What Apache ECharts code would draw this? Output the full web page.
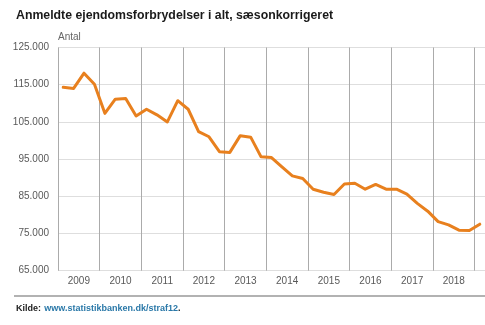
<!DOCTYPE html>
<html>
<head>
<meta charset="utf-8">
<script src="https://cdn.jsdelivr.net/npm/echarts@6/dist/echarts.min.js"></script>
<style>html,body{margin:0;padding:0;background:#fff;}#c{width:485px;height:325px;}</style>
</head>
<body>
<div id="c"></div>
<script>
// Quarterly categories 2009K1 .. 2019K1
const years = ['2009','2010','2011','2012','2013','2014','2015','2016','2017','2018','2019'];
const quarters = [];
for (const y of years) for (let q = 1; q <= 4; q++) quarters.push(y + 'K' + q);
quarters.length = 41;
const values = [
  114300, 114000, 118100, 115100, 107300, 111100, 111300, 106600,
  108400, 106900, 105000, 110700, 108400, 102400, 101000, 97000,
  96800, 101300, 100900, 95600, 95400, 92900, 90500, 89800,
  86900, 86100, 85500, 88300, 88500, 86900, 88200, 86900,
  86900, 85600, 83100, 81000, 78200, 77300, 75900, 75800,
  77500
];
const yTicks = [65000, 75000, 85000, 95000, 105000, 115000, 125000];

const narrow = '"Liberation Sans Narrow", "Arial Narrow", "Liberation Sans", Arial, sans-serif';
const sans = '"Liberation Sans", Arial, sans-serif';
const fmt = v => String(v).replace(/\B(?=(\d{3})+(?!\d))/g, '.');

const chart = echarts.init(document.getElementById('c'), null, {renderer: 'canvas'});
chart.setOption({
  animation: false,
  backgroundColor: '#fff',
  title: {
    text: 'Anmeldte ejendomsforbrydelser i alt, sæsonkorrigeret',
    left: 16, top: 10, padding: 0,
    textStyle: {fontFamily: sans, fontSize: 12.3, fontWeight: 'bold', color: '#1a1a1a'}
  },
  grid: {left: 58, top: 47.5, width: 430.5, height: 223.2, containLabel: false},
  xAxis: {
    type: 'category', data: quarters, boundaryGap: true,
    axisLine: {show: false}, axisTick: {show: false},
    splitLine: {show: true, interval: (i) => i % 4 === 0, lineStyle: {color: '#ababab', width: 1}},
    axisLabel: {
      interval: (i) => i % 4 === 1,
      formatter: (v, i) => years[Math.floor(i / 4)],
      padding: [0, 0, 0, 10.5],
      margin: 6, color: '#595959', fontSize: 10, fontFamily: narrow
    }
  },
  yAxis: {
    type: 'value', min: yTicks[0], max: yTicks[yTicks.length - 1], interval: 10000,
    axisLine: {show: false}, axisTick: {show: false},
    splitLine: {lineStyle: {color: '#dedede', width: 1}},
    axisLabel: {formatter: fmt, margin: 9, color: '#595959', fontSize: 10, fontFamily: narrow}
  },
  series: [{
    type: 'line', data: values, symbol: 'none',
    lineStyle: {color: '#E8801E', width: 3, cap: 'round', join: 'round'}
  }],
  graphic: [
    {type: 'text', left: 58, top: 32.5, style: {text: 'Antal', fill: '#666', fontSize: 10, fontFamily: narrow}},
    {type: 'line', shape: {x1: 14, y1: 296, x2: 485, y2: 296}, style: {stroke: '#999', lineWidth: 1.5}},
    {type: 'text', left: 16, top: 303, style: {
      text: '{k|Kilde:} {l|www.statistikbanken.dk/straf12}{k|.}',
      rich: {
        k: {fill: '#222', fontSize: 9, fontWeight: 'bold', fontFamily: sans},
        l: {fill: '#2a78a8', fontSize: 9, fontWeight: 'bold', fontFamily: sans}
      }
    }}
  ]
});
</script>
</body>
</html>
